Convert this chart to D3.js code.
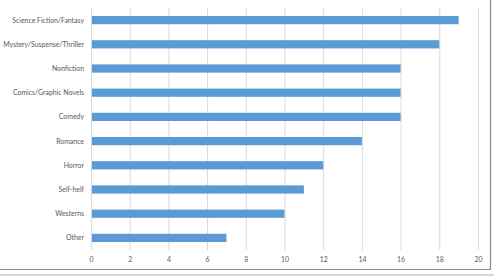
<!DOCTYPE html>
<html>
<head>
<meta charset="utf-8">
<script src="https://cdn.jsdelivr.net/npm/d3@7"></script>
<style>
  body { margin: 0; background: #fff; }
  svg { display: block; }
</style>
</head>
<body>
<div id="chart"></div>
<script>
var genres = ["Science Fiction/Fantasy", "Mystery/Suspense/Thriller", "Nonfiction",
              "Comics/Graphic Novels", "Comedy", "Romance", "Horror", "Self-helf",
              "Westerns", "Other"];
var counts = [19, 18, 16, 16, 16, 14, 12, 11, 10, 7];
var xTicks = [0, 2, 4, 6, 8, 10, 12, 14, 16, 18, 20];

var w = 494, h = 276;
// plot area edges (window.top is reserved, so prefixed names)
var plotLeft = 91, plotRight = 478, plotTop = 8, plotBottom = 250;

var svg = d3.select("#chart").append("svg")
    .attr("width", w)
    .attr("height", h);

var x = d3.scaleLinear().domain([0, 20]).range([plotLeft, plotRight]);
var y = d3.scaleBand().domain(genres).range([plotTop, plotBottom]).paddingInner(0.66).paddingOuter(0.33);

// gridlines
svg.selectAll("line.grid")
    .data(xTicks)
    .enter()
    .append("line")
    .attr("class", "grid")
    .attr("x1", function(d) { return x(d) + 0.5; })
    .attr("x2", function(d) { return x(d) + 0.5; })
    .attr("y1", plotTop)
    .attr("y2", plotBottom)
    .attr("stroke", "#d9d9d9")
    .attr("stroke-width", 1);

// bars
svg.selectAll("rect.bar")
    .data(genres)
    .enter()
    .append("rect")
    .attr("class", "bar")
    .attr("x", x(0) + 1)
    .attr("y", function(d) { return y(d); })
    .attr("width", function(d, i) { return x(counts[i]) - x(0) - 1; })
    .attr("height", y.bandwidth())
    .attr("fill", "#5b9bd5");

// category labels
svg.selectAll("text.cat")
    .data(genres)
    .enter()
    .append("text")
    .attr("class", "cat")
    .attr("x", 84)
    .attr("y", function(d) { return y(d) + y.bandwidth() / 2; })
    .attr("dy", "0.35em")
    .attr("text-anchor", "end")
    .attr("font-family", "Lato, sans-serif")
    .attr("font-size", 6.9)
    .attr("fill", "#595959")
    .text(function(d) { return d; });

// x axis tick labels
var xAxis = d3.axisBottom(x).tickValues(xTicks).tickSize(0).tickPadding(7);
var gx = svg.append("g")
    .attr("transform", "translate(0," + plotBottom + ")")
    .call(xAxis);
gx.select(".domain").remove();
gx.selectAll("text")
    .attr("font-family", "Lato, sans-serif")
    .attr("font-size", 6.9)
    .attr("fill", "#595959");

// frame edges
svg.append("line")
    .attr("x1", 490.5).attr("x2", 490.5)
    .attr("y1", 0).attr("y2", 269)
    .attr("stroke", "#8c8c8c").attr("stroke-width", 1.2);
svg.append("line")
    .attr("x1", 0).attr("x2", 491)
    .attr("y1", 269.5).attr("y2", 269.5)
    .attr("stroke", "#8c8c8c").attr("stroke-width", 1.2);
svg.append("line")
    .attr("x1", 0).attr("x2", 494)
    .attr("y1", 275).attr("y2", 275)
    .attr("stroke", "#c8c8c8").attr("stroke-width", 1.5);
</script>
</body>
</html>
